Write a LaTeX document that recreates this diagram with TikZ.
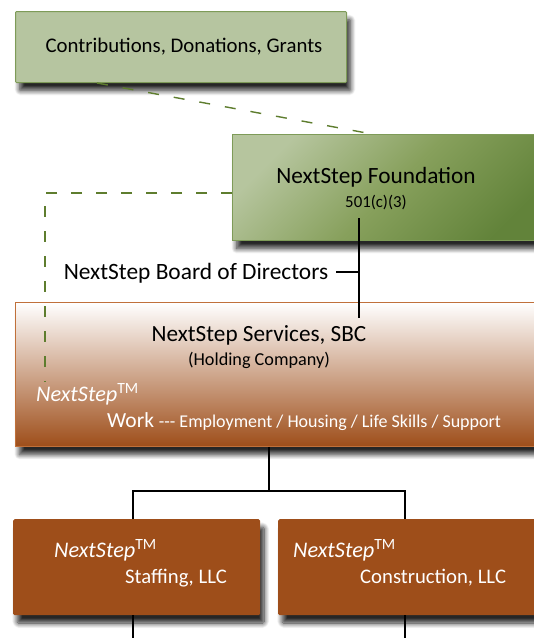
\documentclass[tikz,border=0pt]{standalone}
\usepackage{fontspec}
\setmainfont{Carlito}
\usetikzlibrary{shadows.blur,calc}
\definecolor{sagefill}{HTML}{B6C5A0}
\definecolor{sageline}{HTML}{7E9B58}
\definecolor{olivelight}{HTML}{B6C59E}
\definecolor{olivemid}{HTML}{87A05C}
\definecolor{olivedark}{HTML}{62833A}
\definecolor{rust}{HTML}{9E4E1A}
\definecolor{rustline}{HTML}{C0703A}
\definecolor{dashgreen}{HTML}{5E7D2E}
\newcommand{\fs}[1]{\fontsize{#1}{#1}\selectfont}
\newcommand{\tmark}{\textsuperscript{\upshape TM}}
\tikzset{
  boxshadow/.style={blur shadow={shadow xshift=4pt, shadow yshift=-8pt,
      shadow blur radius=5pt, shadow blur steps=12, shadow opacity=85}},
  orgline/.style={line width=1.5pt, black},
  fundline/.style={line width=1.4pt, dashgreen, dash pattern=on 11pt off 15pt},
  txt/.style={inner sep=0pt, anchor=base},
}
\begin{document}
\begin{tikzpicture}[x=1pt, y=-1pt]
\useasboundingbox (0,0) rectangle (534,638);
\clip (0,0) rectangle (534,638);

% funding source
\node[draw=sageline, line width=1pt, fill=sagefill, boxshadow, rounded corners=1pt,
      minimum width=331pt, minimum height=71pt, anchor=north west] (contrib) at (15,11) {};
\node[txt] (contribtxt) at (184,52) {\fs{20.8}Contributions, Donations, Grants};

% foundation
\node[draw=sageline, line width=1pt, boxshadow,
      left color=olivelight, right color=olivedark, middle color=olivemid, shading angle=45,
      minimum width=320pt, minimum height=106pt, anchor=north west] (found) at (232,134) {};
\node[txt] (foundtxt) at (376,183) {\fs{23.3}NextStep Foundation};
\node[txt] (foundsub) at (376,207) {\fs{16.8}501(c)(3)};

% board label
\node[txt] (board) at (196,279) {\fs{23.4}NextStep Board of Directors};

% holding company
\node[draw=rustline, line width=0.8pt, boxshadow, top color=white, bottom color=rust,
      minimum width=540pt, minimum height=144pt, anchor=north west] (serv) at (15,302) {};
\node[txt] (servtxt) at (259,341) {\fs{23.2}NextStep Services, SBC};
\node[txt] (servsub) at (259,365) {\fs{18.2}(Holding Company)};
\node[txt, anchor=base west, text=white] (servbrand) at (36,401) {\fs{22.3}\itshape NextStep\tmark};
\node[txt, anchor=base west, text=white] (servwork) at (107,427)
  {\fs{21.5}Work \fs{18}-{}-{}- Employment / Housing / Life Skills / Support};

% subsidiaries
\node[fill=rust, boxshadow, rounded corners=1.5pt,
      minimum width=247pt, minimum height=96pt, anchor=north west] (staff) at (13,519) {};
\node[txt, anchor=base west, text=white] (staffbrand) at (54,557) {\fs{22.3}\itshape NextStep\tmark};
\node[txt, anchor=base west, text=white] (stafftxt) at (125,583) {\fs{20.7}Staffing, LLC};

\node[fill=rust, boxshadow, rounded corners=1.5pt,
      minimum width=270pt, minimum height=96pt, anchor=north west] (constr) at (278,519) {};
\node[txt, anchor=base west, text=white] (constrbrand) at (293,557) {\fs{22.3}\itshape NextStep\tmark};
\node[txt, anchor=base west, text=white] (constrtxt) at (360,583) {\fs{20.7}Construction, LLC};

% funding flows
\coordinate (dfrom) at ($(contrib.south west)+(82,0)$);
\coordinate (dto) at ($(found.north west)+(140,0)$);
\draw[fundline] (dfrom) -- (dto);
\coordinate (lcorner) at (45,193);
\coordinate (lend) at (45,382);
\draw[fundline, dash pattern=on 11pt off 14pt] (found.west |- lcorner) -- (lcorner) -- (lend);

% governance
\coordinate (govtop) at (359,218);
\coordinate (govbot) at (359,318);
\draw[orgline] (govtop) -- (govbot);
\draw[orgline] ($(board.base east)+(8,-7)$) -- ($(govtop |- board.base)+(0,-7)$);

% ownership tree
\coordinate (split) at (269,491);
\draw[orgline] (serv.south -| split) -- (split);
\coordinate (lx) at (133,0);
\coordinate (rx) at (405,0);
\draw[orgline] (staff.north -| lx) -- (split -| lx) -- (split -| rx) -- (constr.north -| rx);
\draw[orgline] (staff.south -| lx) -- ++(0,30);
\draw[orgline] (constr.south -| rx) -- ++(0,30);
\end{tikzpicture}
\end{document}
